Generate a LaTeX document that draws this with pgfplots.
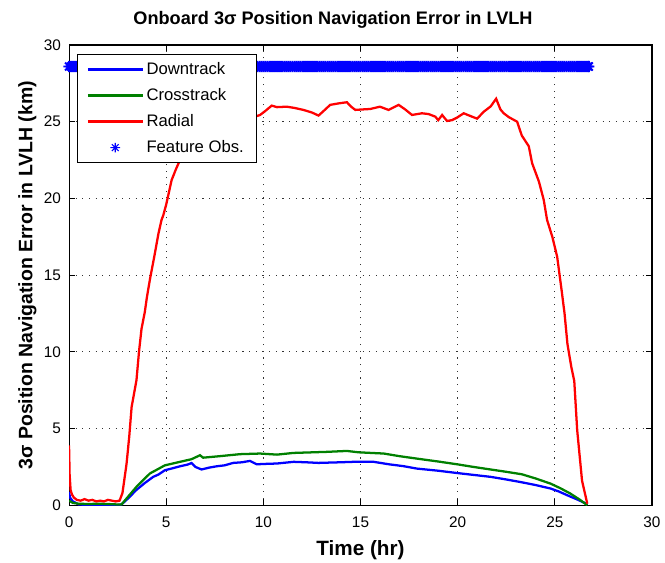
\documentclass[border=0pt]{standalone}
\usepackage{pgfplots}
\pgfplotsset{compat=1.18}
\usepackage{fontspec}
\setmainfont{Liberation Sans}
\definecolor{mblue}{RGB}{0,0,255}
\definecolor{mgreen}{RGB}{0,128,0}
\definecolor{mred}{RGB}{255,0,0}
\pgfdeclareplotmark{mstar}{%
  \pgfpathmoveto{\pgfqpoint{-\pgfplotmarksize}{0pt}}\pgfpathlineto{\pgfqpoint{\pgfplotmarksize}{0pt}}%
  \pgfpathmoveto{\pgfqpoint{0pt}{-\pgfplotmarksize}}\pgfpathlineto{\pgfqpoint{0pt}{\pgfplotmarksize}}%
  \pgfpathmoveto{\pgfqpoint{-.70710678\pgfplotmarksize}{-.70710678\pgfplotmarksize}}\pgfpathlineto{\pgfqpoint{.70710678\pgfplotmarksize}{.70710678\pgfplotmarksize}}%
  \pgfpathmoveto{\pgfqpoint{-.70710678\pgfplotmarksize}{.70710678\pgfplotmarksize}}\pgfpathlineto{\pgfqpoint{.70710678\pgfplotmarksize}{-.70710678\pgfplotmarksize}}%
  \pgfusepathqstroke}
\begin{document}
\begin{tikzpicture}
\begin{axis}[
  scale only axis, width=437pt, height=345pt,
  xmin=0, xmax=30, ymin=0, ymax=30,
  xtick={0,5,...,30}, ytick={0,5,...,30},
  grid=major,
  major grid style={black!80, line width=0.8pt, dash pattern=on 0.8pt off 4.2pt},
  axis line style={black, line width=0.8pt},
  tick style={black, line width=0.8pt},
  tick align=inside, major tick length=4.5pt,
  /pgf/number format/assume math mode=true,
  tick label style={font=\fontsize{11.5}{13}\selectfont},
  yticklabel style={xshift=-2.5pt},
  xticklabel style={yshift=-5pt},
  title={\textbf{Onboard 3σ Position Navigation Error in LVLH}},
  title style={font=\fontsize{13.6}{16}\selectfont, at={(0.4528,1.0446)}, anchor=base, yshift=-6pt},
  xlabel={\textbf{Time (hr)}},
  xlabel style={font=\fontsize{15.5}{18}\selectfont, at={(0.5,-0.110)}, anchor=base},
  ylabel={\textbf{3σ Position Navigation Error in LVLH (km)}},
  ylabel style={font=\fontsize{14.6}{18}\selectfont, at={(-0.063,0.5)}, anchor=base},
  legend style={at={(0.0137,0.9804)}, anchor=north west, draw=black,
    fill=white, font=\fontsize{12.5}{15}\selectfont, row sep=5pt, inner xsep=7pt, inner ysep=4pt},
  legend cell align=left,
  legend image code/.code={\draw[#1, line width=1.9pt] (0pt,0pt) -- (41pt,0pt);},
]
\addplot[mblue, line width=1.7pt] coordinates {
(0,0.87)(0.05,0.5)(0.2,0.25)(0.5,0.05)(1,0.02)(1.5,0.02)(2,0.02)(2.5,0.02)(2.7,0.05)(3.0,0.4)(3.47,1.0)(3.9,1.45)(4.33,1.85)(4.6,2.0)(4.93,2.28)(5.3,2.4)(5.71,2.54)(6.1,2.65)(6.3,2.75)(6.5,2.5)(6.82,2.33)(7.2,2.45)(7.6,2.54)(8.0,2.6)(8.45,2.76)(8.9,2.8)(9.31,2.89)(9.66,2.67)(10.2,2.7)(10.7,2.72)(11.56,2.83)(12.2,2.8)(12.84,2.76)(13.95,2.8)(14.64,2.83)(15.68,2.83)(16.46,2.67)(17.2,2.55)(17.9,2.39)(19.0,2.25)(19.97,2.1)(20.8,1.98)(21.7,1.85)(22.5,1.68)(23.2,1.52)(24.0,1.32)(24.78,1.09)(25.2,0.9)(25.64,0.65)(26.2,0.35)(26.67,0.07)
};
\addlegendentry{Downtrack}
\addplot[mgreen, line width=1.7pt] coordinates {
(0,0.3)(0.2,0.15)(0.5,0.1)(1,0.08)(1.5,0.1)(2,0.08)(2.5,0.05)(2.7,0.05)(3.0,0.5)(3.47,1.2)(4.16,2.07)(4.93,2.6)(5.71,2.83)(6.3,3.0)(6.74,3.26)(6.9,3.1)(7.77,3.2)(8.8,3.33)(9.83,3.37)(10.7,3.3)(11.55,3.41)(13.27,3.48)(14.3,3.54)(14.9,3.45)(16.2,3.37)(17.0,3.2)(17.9,3.04)(19.0,2.85)(19.97,2.67)(20.8,2.5)(21.7,2.33)(22.5,2.18)(23.3,2.02)(24.0,1.75)(24.78,1.41)(25.3,1.1)(25.8,0.76)(26.3,0.35)(26.67,0.0)
};
\addlegendentry{Crosstrack}
\addplot[mred, line width=1.7pt] coordinates {
(0,3.9)(0.03,2.0)(0.08,1.0)(0.15,0.7)(0.25,0.5)(0.4,0.35)(0.6,0.3)(0.8,0.4)(1.0,0.3)(1.2,0.35)(1.4,0.25)(1.6,0.3)(1.8,0.25)(2.0,0.35)(2.2,0.3)(2.4,0.25)(2.6,0.3)(2.75,0.8)(2.96,2.7)(3.1,4.5)(3.22,6.4)(3.47,8.15)(3.6,10)(3.73,11.5)(3.9,12.6)(4.0,13.5)(4.16,14.7)(4.4,16.3)(4.6,17.7)(4.76,18.6)(4.85,18.9)(5.0,19.6)(5.28,21.2)(5.5,21.9)(5.71,22.5)(6.0,23.1)(6.5,23.8)(7.0,24.3)(7.5,24.6)(8.0,24.8)(8.5,25.0)(9.0,25.1)(9.5,25.3)(9.83,25.44)(10.1,25.7)(10.43,26.05)(10.7,25.95)(11.2,25.98)(11.6,25.9)(12.06,25.77)(12.5,25.6)(12.84,25.4)(13.1,25.7)(13.44,26.1)(13.9,26.2)(14.3,26.27)(14.5,26.0)(14.73,25.77)(15.1,25.8)(15.5,25.83)(16.0,25.98)(16.44,25.77)(16.96,26.1)(17.3,25.8)(17.65,25.44)(18.16,25.55)(18.5,25.5)(18.85,25.33)(19.0,25.1)(19.2,25.44)(19.45,25.05)(19.7,25.1)(19.97,25.27)(20.31,25.55)(20.6,25.4)(21.0,25.2)(21.35,25.66)(21.7,26.0)(21.98,26.5)(22.2,25.8)(22.37,25.55)(22.63,25.3)(23.06,25.0)(23.3,24.1)(23.66,23.4)(23.83,22.3)(24.18,21.1)(24.43,19.9)(24.6,18.6)(24.87,17.5)(25.12,16.2)(25.35,14.0)(25.5,12.5)(25.65,10.5)(25.85,9.0)(26.0,8.1)(26.15,4.9)(26.4,1.6)(26.67,0.1)
};
\addlegendentry{Radial}
\addplot[mblue, only marks, mark=mstar, mark size=4.2pt, line width=1.4pt, forget plot] coordinates {
(0,28.6)(0.1,28.6)(0.2,28.6)(0.3,28.6)(0.4,28.6)(0.5,28.6)(0.6,28.6)(0.7,28.6)(0.8,28.6)(0.9,28.6)
(1,28.6)(1.1,28.6)(1.2,28.6)(1.3,28.6)(1.4,28.6)(1.5,28.6)(1.6,28.6)(1.7,28.6)(1.8,28.6)(1.9,28.6)
(2,28.6)(2.1,28.6)(2.2,28.6)(2.3,28.6)(2.4,28.6)(2.5,28.6)(2.6,28.6)(2.7,28.6)(2.8,28.6)(2.9,28.6)
(3,28.6)(3.1,28.6)(3.2,28.6)(3.3,28.6)(3.4,28.6)(3.5,28.6)(3.6,28.6)(3.7,28.6)(3.8,28.6)(3.9,28.6)
(4,28.6)(4.1,28.6)(4.2,28.6)(4.3,28.6)(4.4,28.6)(4.5,28.6)(4.6,28.6)(4.7,28.6)(4.8,28.6)(4.9,28.6)
(5,28.6)(5.1,28.6)(5.2,28.6)(5.3,28.6)(5.4,28.6)(5.5,28.6)(5.6,28.6)(5.7,28.6)(5.8,28.6)(5.9,28.6)
(6,28.6)(6.1,28.6)(6.2,28.6)(6.3,28.6)(6.4,28.6)(6.5,28.6)(6.6,28.6)(6.7,28.6)(6.8,28.6)(6.9,28.6)
(7,28.6)(7.1,28.6)(7.2,28.6)(7.3,28.6)(7.4,28.6)(7.5,28.6)(7.6,28.6)(7.7,28.6)(7.8,28.6)(7.9,28.6)
(8,28.6)(8.1,28.6)(8.2,28.6)(8.3,28.6)(8.4,28.6)(8.5,28.6)(8.6,28.6)(8.7,28.6)(8.8,28.6)(8.9,28.6)
(9,28.6)(9.1,28.6)(9.2,28.6)(9.3,28.6)(9.4,28.6)(9.5,28.6)(9.6,28.6)(9.7,28.6)(9.8,28.6)(9.9,28.6)
(10,28.6)(10.1,28.6)(10.2,28.6)(10.3,28.6)(10.4,28.6)(10.5,28.6)(10.6,28.6)(10.7,28.6)(10.8,28.6)(10.9,28.6)
(11,28.6)(11.1,28.6)(11.2,28.6)(11.3,28.6)(11.4,28.6)(11.5,28.6)(11.6,28.6)(11.7,28.6)(11.8,28.6)(11.9,28.6)
(12,28.6)(12.1,28.6)(12.2,28.6)(12.3,28.6)(12.4,28.6)(12.5,28.6)(12.6,28.6)(12.7,28.6)(12.8,28.6)(12.9,28.6)
(13,28.6)(13.1,28.6)(13.2,28.6)(13.3,28.6)(13.4,28.6)(13.5,28.6)(13.6,28.6)(13.7,28.6)(13.8,28.6)(13.9,28.6)
(14,28.6)(14.1,28.6)(14.2,28.6)(14.3,28.6)(14.4,28.6)(14.5,28.6)(14.6,28.6)(14.7,28.6)(14.8,28.6)(14.9,28.6)
(15,28.6)(15.1,28.6)(15.2,28.6)(15.3,28.6)(15.4,28.6)(15.5,28.6)(15.6,28.6)(15.7,28.6)(15.8,28.6)(15.9,28.6)
(16,28.6)(16.1,28.6)(16.2,28.6)(16.3,28.6)(16.4,28.6)(16.5,28.6)(16.6,28.6)(16.7,28.6)(16.8,28.6)(16.9,28.6)
(17,28.6)(17.1,28.6)(17.2,28.6)(17.3,28.6)(17.4,28.6)(17.5,28.6)(17.6,28.6)(17.7,28.6)(17.8,28.6)(17.9,28.6)
(18,28.6)(18.1,28.6)(18.2,28.6)(18.3,28.6)(18.4,28.6)(18.5,28.6)(18.6,28.6)(18.7,28.6)(18.8,28.6)(18.9,28.6)
(19,28.6)(19.1,28.6)(19.2,28.6)(19.3,28.6)(19.4,28.6)(19.5,28.6)(19.6,28.6)(19.7,28.6)(19.8,28.6)(19.9,28.6)
(20,28.6)(20.1,28.6)(20.2,28.6)(20.3,28.6)(20.4,28.6)(20.5,28.6)(20.6,28.6)(20.7,28.6)(20.8,28.6)(20.9,28.6)
(21,28.6)(21.1,28.6)(21.2,28.6)(21.3,28.6)(21.4,28.6)(21.5,28.6)(21.6,28.6)(21.7,28.6)(21.8,28.6)(21.9,28.6)
(22,28.6)(22.1,28.6)(22.2,28.6)(22.3,28.6)(22.4,28.6)(22.5,28.6)(22.6,28.6)(22.7,28.6)(22.8,28.6)(22.9,28.6)
(23,28.6)(23.1,28.6)(23.2,28.6)(23.3,28.6)(23.4,28.6)(23.5,28.6)(23.6,28.6)(23.7,28.6)(23.8,28.6)(23.9,28.6)
(24,28.6)(24.1,28.6)(24.2,28.6)(24.3,28.6)(24.4,28.6)(24.5,28.6)(24.6,28.6)(24.7,28.6)(24.8,28.6)(24.9,28.6)
(25,28.6)(25.1,28.6)(25.2,28.6)(25.3,28.6)(25.4,28.6)(25.5,28.6)(25.6,28.6)(25.7,28.6)(25.8,28.6)(25.9,28.6)
(26,28.6)(26.1,28.6)(26.2,28.6)(26.3,28.6)(26.4,28.6)(26.5,28.6)(26.6,28.6)(26.7,28.6)(26.75,28.6)
};
\addlegendimage{legend image code/.code={\draw[mblue, line width=0.8pt] plot[only marks, mark=mstar, mark size=3.6pt] coordinates {(20.5pt,0pt)};}}
\addlegendentry{Feature Obs.}
\end{axis}
\pgfresetboundingbox
\path[use as bounding box] ([xshift=-51.75pt,yshift=-42.75pt]current axis.south west) rectangle ([xshift=9.75pt,yshift=33.75pt]current axis.north east);
\end{tikzpicture}
\end{document}
